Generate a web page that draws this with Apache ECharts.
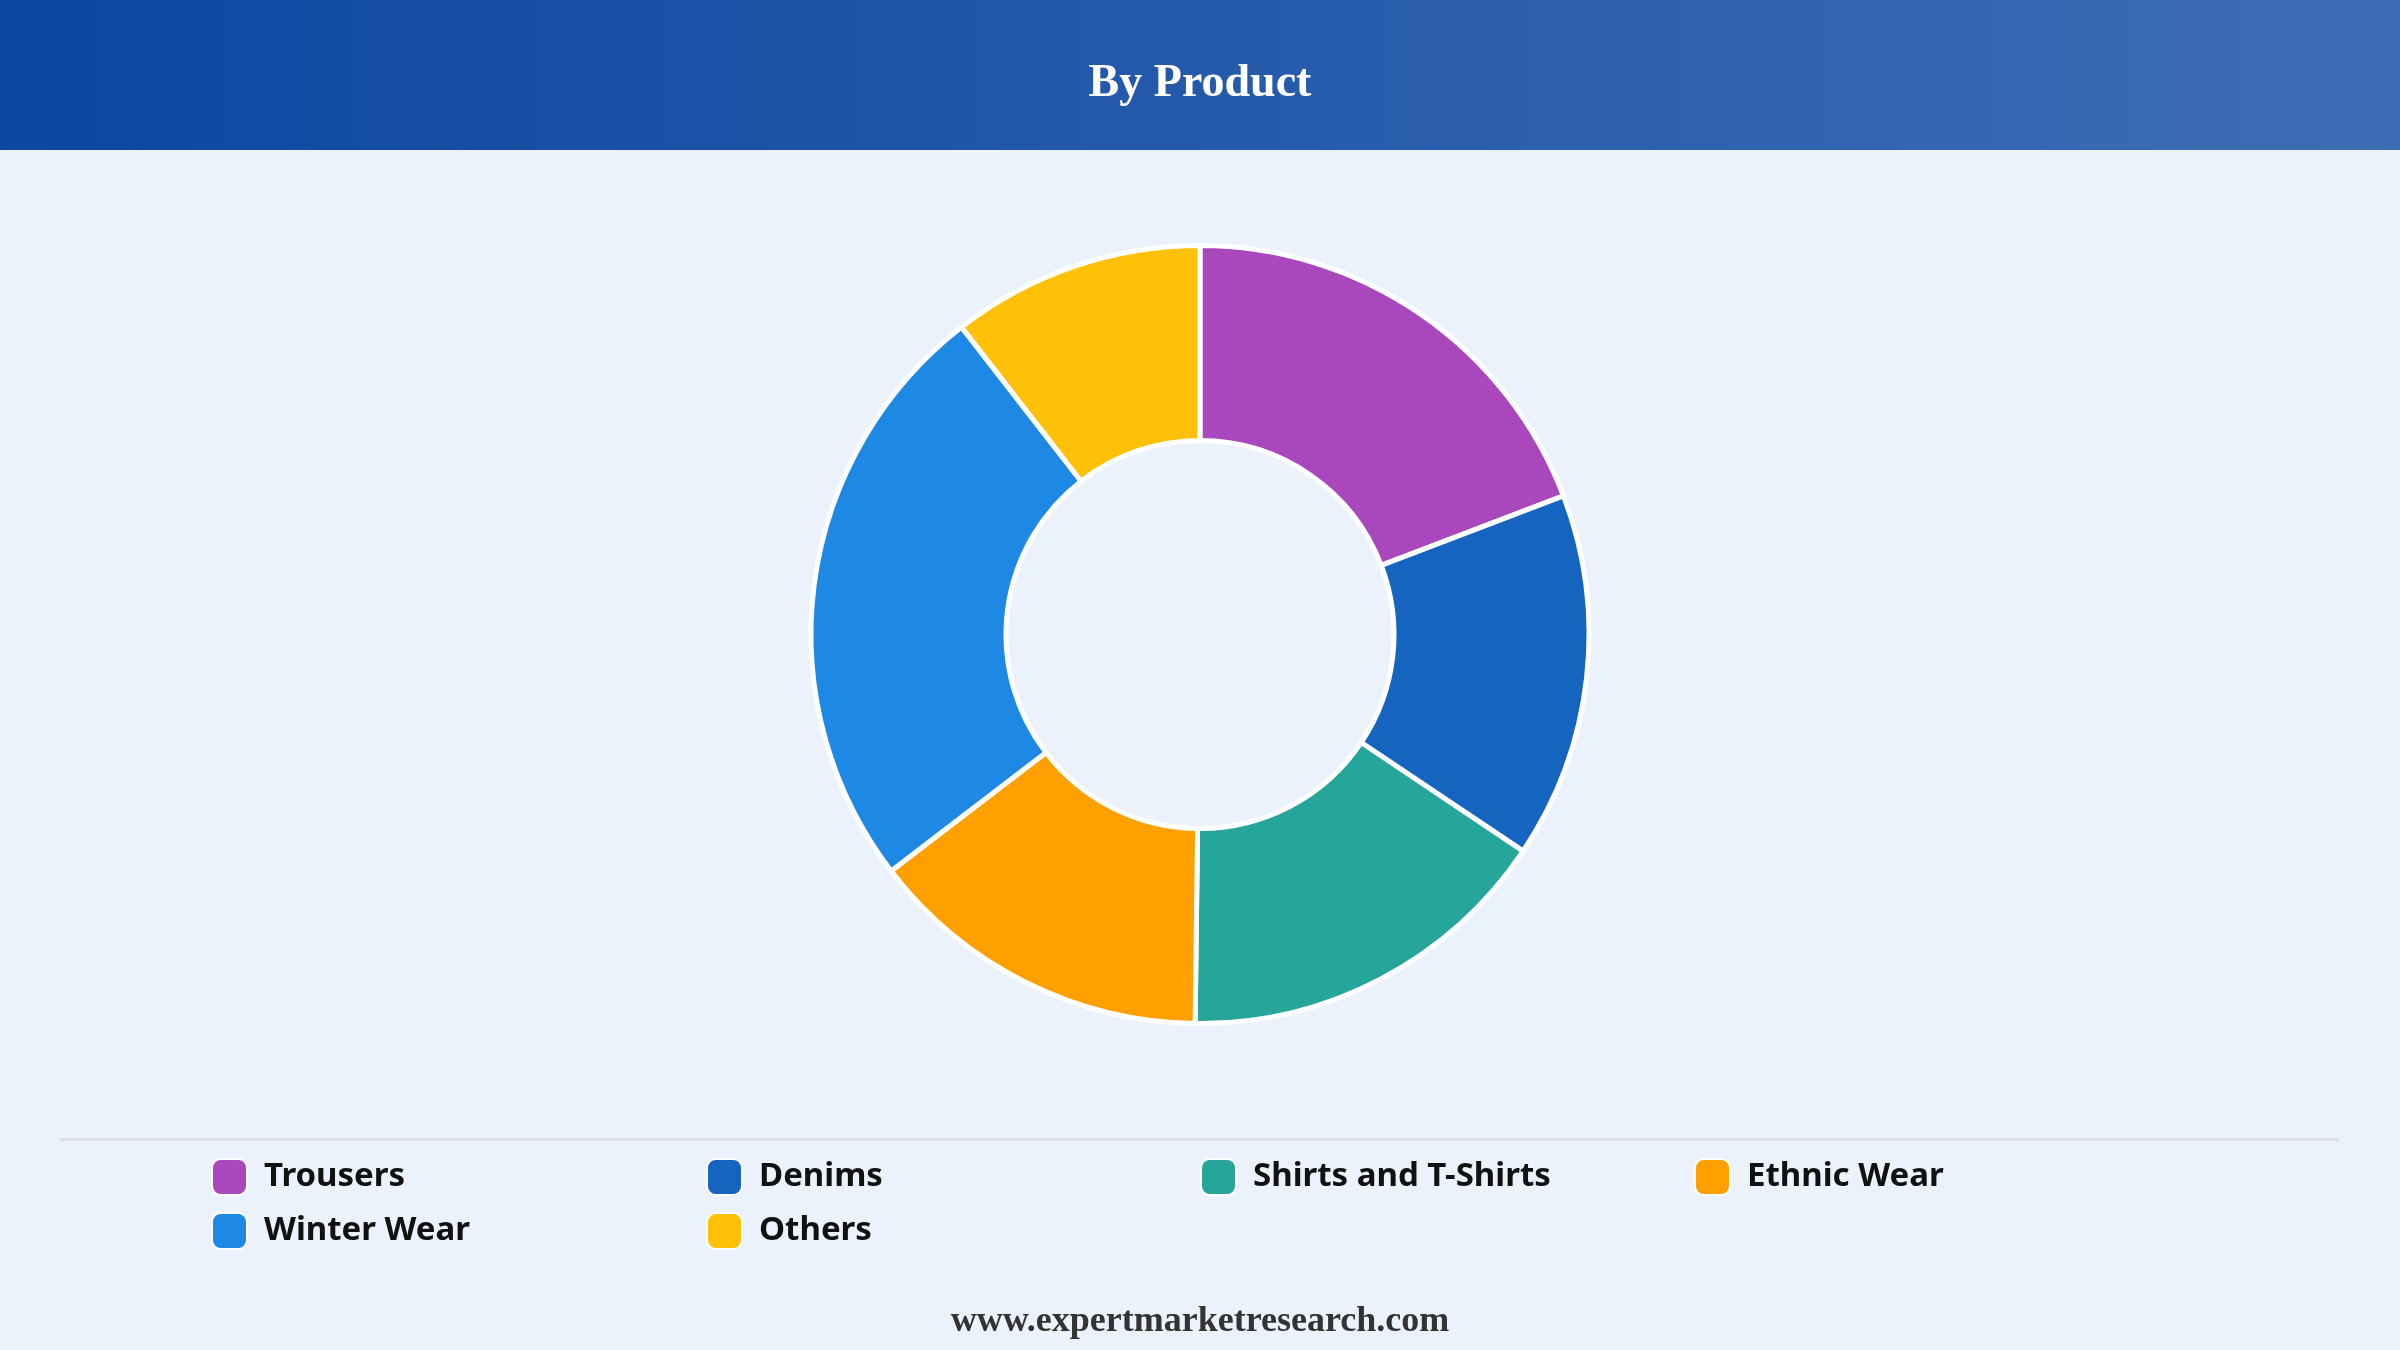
<!DOCTYPE html>
<html>
<head>
<meta charset="utf-8">
<script src="https://cdn.jsdelivr.net/npm/echarts@6/dist/echarts.min.js"></script>
<style>
html,body{margin:0;padding:0;background:#EBF2FB;}
#chart{width:2400px;height:1350px;}
</style>
</head>
<body>
<div id="chart"></div>
<script>
const titleText = "By Product";
const footerText = "www.expertmarketresearch.com";
const categories = ["Trousers", "Denims", "Shirts and T-Shirts", "Ethnic Wear", "Winter Wear", "Others"];
const shares = [19.2, 15.2, 15.8, 14.4, 24.9, 10.5];
const colors = ["#AB47BC", "#1565C0", "#26A69A", "#FFA000", "#1E88E5", "#FFC107"];

const legendCols = [211, 706, 1200, 1694];
const legendRows = [1158, 1212];

const chart = echarts.init(document.getElementById('chart'), null, {renderer: 'canvas'});

const legends = categories.map((name, i) => ({
  data: [name],
  orient: 'horizontal',
  left: legendCols[i % 4],
  top: legendRows[Math.floor(i / 4)],
  padding: 0,
  itemWidth: 35,
  itemHeight: 36,
  icon: 'roundRect',
  selectedMode: false,
  textStyle: {
    fontFamily: '"Noto Sans", sans-serif',
    fontWeight: 'bold',
    fontSize: 33,
    color: '#111111',
    padding: [0, 0, 0, 12]
  }
}));

chart.setOption({
  backgroundColor: '#EBF2FB',
  animation: false,
  color: colors,
  legend: legends,
  graphic: [
    {
      type: 'rect', left: 0, top: 0, z: 0,
      shape: {width: 2400, height: 150},
      style: {
        fill: new echarts.graphic.LinearGradient(0, 0, 1, 0, [
          {offset: 0, color: '#0D47A1'},
          {offset: 1, color: '#3D6DB5'}
        ])
      }
    },
    {
      type: 'text', left: 'center', top: 61, z: 2,
      style: {
        text: titleText,
        fill: '#ffffff',
        font: 'bold 46px "Liberation Serif", "Times New Roman", serif'
      }
    },
    {
      type: 'rect', left: 60, top: 1138, z: 1,
      shape: {width: 2279, height: 3},
      style: {fill: '#DCE0E6'}
    },
    {
      type: 'text', left: 'center', top: 1304, z: 2,
      style: {
        text: footerText,
        fill: '#333333',
        font: 'bold 36px "Liberation Serif", "Times New Roman", serif'
      }
    }
  ],
  series: [{
    type: 'pie',
    center: [1200, 634.5],
    radius: [194, 389],
    startAngle: 90,
    clockwise: true,
    avoidLabelOverlap: false,
    label: {show: false},
    labelLine: {show: false},
    emphasis: {disabled: true},
    itemStyle: {borderColor: '#ffffff', borderWidth: 5},
    data: categories.map((name, i) => ({name: name, value: shares[i]}))
  }]
});
</script>
</body>
</html>
